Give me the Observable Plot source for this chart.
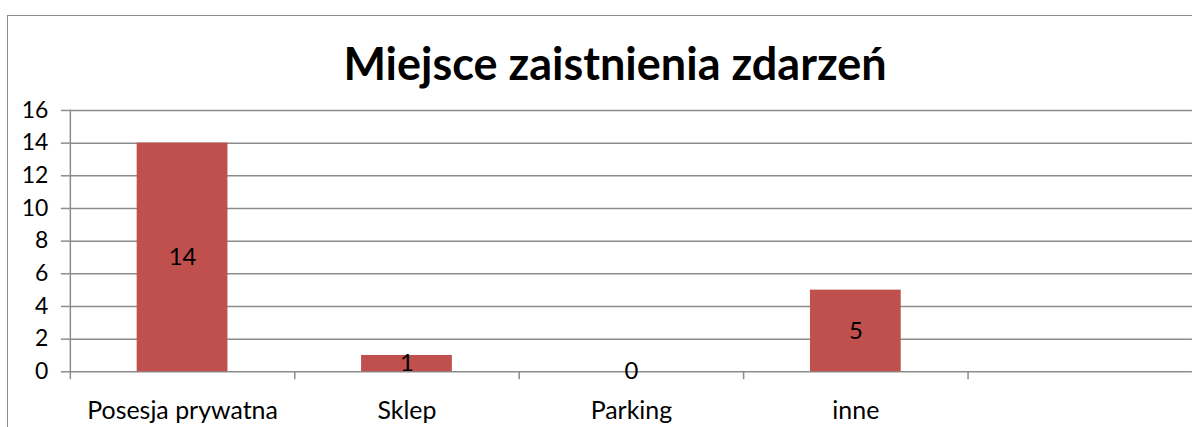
<!DOCTYPE html>
<html>
<head>
<meta charset="utf-8">
<script src="https://cdn.jsdelivr.net/npm/d3@7"></script>
<script src="https://cdn.jsdelivr.net/npm/@observablehq/plot@0.6"></script>
<style>
  html, body { margin: 0; padding: 0; background: #fff; overflow: hidden; }
  body { width: 1192px; height: 427px; position: relative; font-family: Lato, "Open Sans", sans-serif; }
  #frame { position: absolute; left: 7px; top: 15px; width: 1300px; height: 600px;
           border-left: 1.5px solid #8c8c8c; border-top: 1.5px solid #8c8c8c; box-sizing: border-box; }
  #title { position: absolute; left: 0; top: 0; width: 1230px; height: 95px; text-align: center;
           font: bold 45px Lato, "Open Sans", sans-serif; line-height: 45px; color: #000;
           padding-top: 41px; box-sizing: border-box; }
  #chart { position: absolute; left: 0; top: 95px; }
</style>
</head>
<body>
<div id="frame"></div>
<div id="title">Miejsce zaistnienia zdarzeń</div>
<div id="chart"></div>
<script>
const categories = ["Posesja prywatna", "Sklep", "Parking", "inne", ""];
const values = [14, 1, 0, 5, null];
const yTicks = [0, 2, 4, 6, 8, 10, 12, 14, 16];

const data = categories.map((c, i) => ({category: c, value: values[i]}));
const present = data.filter(d => d.value != null);

const W = 1195, ML = 70, MR = 0;
const band = (W - ML - MR) / categories.length;
const gray = "#8c8c8c";

const chart = Plot.plot({
  width: W,
  height: 332,
  marginTop: 15,
  marginBottom: 55,
  marginLeft: ML,
  marginRight: MR,
  style: {fontFamily: "Lato, 'Open Sans', sans-serif", background: "transparent", overflow: "visible"},
  x: {domain: categories, padding: 0, label: null},
  y: {domain: [0, 16], ticks: yTicks, label: null},
  marks: [
    Plot.gridY(yTicks, {stroke: gray, strokeOpacity: 1, strokeWidth: 1.5}),
    Plot.frame({anchor: "left", stroke: gray, strokeWidth: 1.5}),
    Plot.axisY(yTicks, {tickSize: 9, tickPadding: 13, stroke: gray, strokeWidth: 1.5, fill: "#000", fontSize: 23, label: null}),
    Plot.axisX({tickSize: 8, dx: -band / 2, stroke: gray, strokeWidth: 1.5, text: null, label: null}),
    Plot.axisX({tickSize: 0, tickPadding: 30, fill: "#000", fontSize: 25, label: null}),
    Plot.barY(present, {x: "category", y: "value", fill: "#C0504D", insetLeft: 67, insetRight: 67}),
    Plot.text(present, {x: "category", y: d => d.value / 2, text: d => String(d.value), fill: "#000", fontSize: 24})
  ]
});
document.getElementById("chart").appendChild(chart);
</script>
</body>
</html>
